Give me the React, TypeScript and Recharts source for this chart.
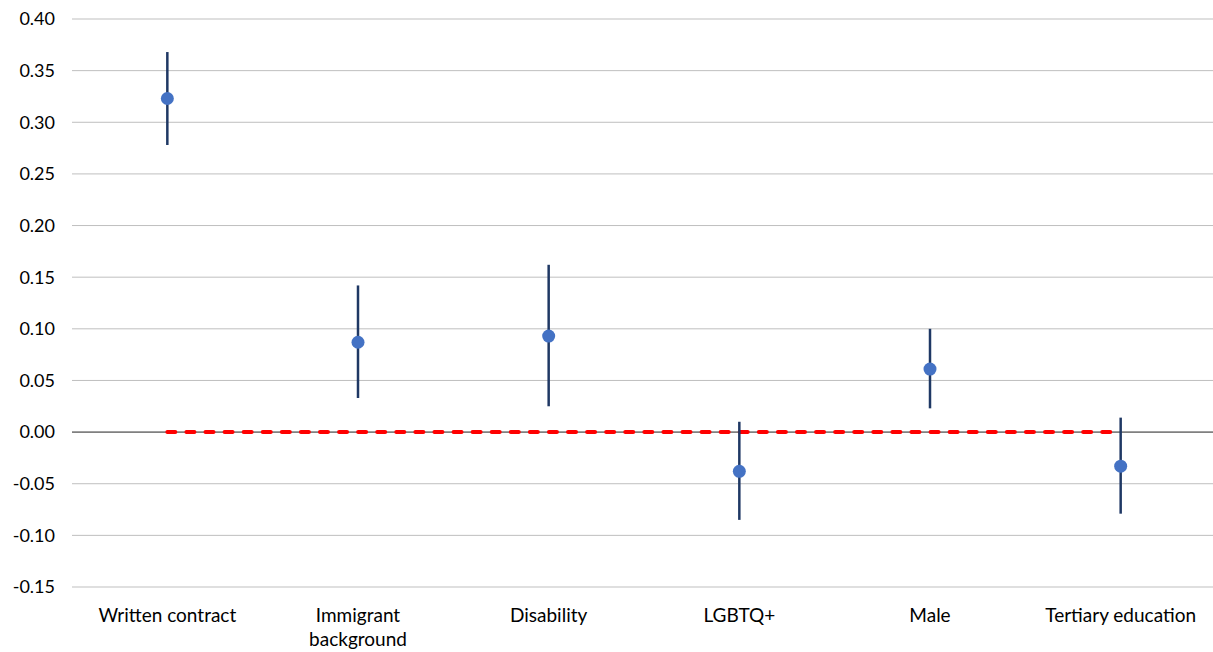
import React from 'react'
import {
    ComposedChart,
    Line,
    XAxis,
    YAxis,
    CartesianGrid,
    ReferenceLine,
    ErrorBar,
} from 'recharts'

const categories = ['Written contract', 'Immigrant background', 'Disability', 'LGBTQ+', 'Male', 'Tertiary education']
const estimates = [0.323, 0.087, 0.093, -0.038, 0.061, -0.033]
const ciLow = [0.278, 0.033, 0.025, -0.085, 0.023, -0.079]
const ciHigh = [0.368, 0.142, 0.162, 0.01, 0.1, 0.014]
const yTicks = [-0.15, -0.1, -0.05, 0, 0.05, 0.1, 0.15, 0.2, 0.25, 0.3, 0.35, 0.4]

const data = categories.map((name, i) => ({
    name,
    estimate: estimates[i],
    err: [estimates[i] - ciLow[i], ciHigh[i] - estimates[i]],
    zero: 0,
}))

const FONT = 'Lato, "Noto Sans", sans-serif'

// long category names go onto two lines
function CategoryTick(props: any) {
    const { x, y, payload } = props
    const label: string = payload.value
    const lines = label.length > 18 ? label.split(' ') : [label]
    return (
        <text x={x} y={y} textAnchor="middle" fill="#000" fontSize={19} fontFamily={FONT}>
            {lines.map((l, i) => (
                <tspan key={i} x={x} dy={i === 0 ? 27 : 24}>
                    {l}
                </tspan>
            ))}
        </text>
    )
}

export default function App() {
    return (
        <div style={{ position: 'absolute', left: 0, top: 0, width: 1213, height: 652, overflow: 'hidden', background: '#fff' }}>
            <ComposedChart
                width={1216}
                height={652}
                data={data}
                margin={{ top: 19, right: 0, left: 0, bottom: 5 }}
            >
                <CartesianGrid vertical={false} stroke="#BFBFBF" strokeWidth={1} />
                <XAxis
                    dataKey="name"
                    scale="band"
                    axisLine={false}
                    tickLine={false}
                    height={60}
                    interval={0}
                    tick={<CategoryTick />}
                />
                <YAxis
                    type="number"
                    domain={[-0.15, 0.4]}
                    ticks={yTicks}
                    width={72}
                    axisLine={false}
                    tickLine={false}
                    tickMargin={11}
                    tickFormatter={(v: number) => v.toFixed(2)}
                    tick={{ fill: '#000', fontSize: 18, fontFamily: FONT }}
                />
                <ReferenceLine y={0} stroke="#404040" strokeWidth={1} />
                <Line
                    dataKey="zero"
                    stroke="#FF0000"
                    strokeWidth={4}
                    strokeDasharray="8 11.08"
                    strokeLinecap="round"
                    dot={false}
                    activeDot={false}
                    isAnimationActive={false}
                />
                <Line
                    dataKey="estimate"
                    stroke="none"
                    dot={{ r: 6.5, fill: '#4472C4', stroke: 'none' }}
                    activeDot={false}
                    isAnimationActive={false}
                >
                    <ErrorBar
                        dataKey="err"
                        direction="y"
                        width={0}
                        stroke="#1F3864"
                        strokeWidth={2.5}
                        isAnimationActive={false}
                    />
                </Line>
            </ComposedChart>
        </div>
    )
}
